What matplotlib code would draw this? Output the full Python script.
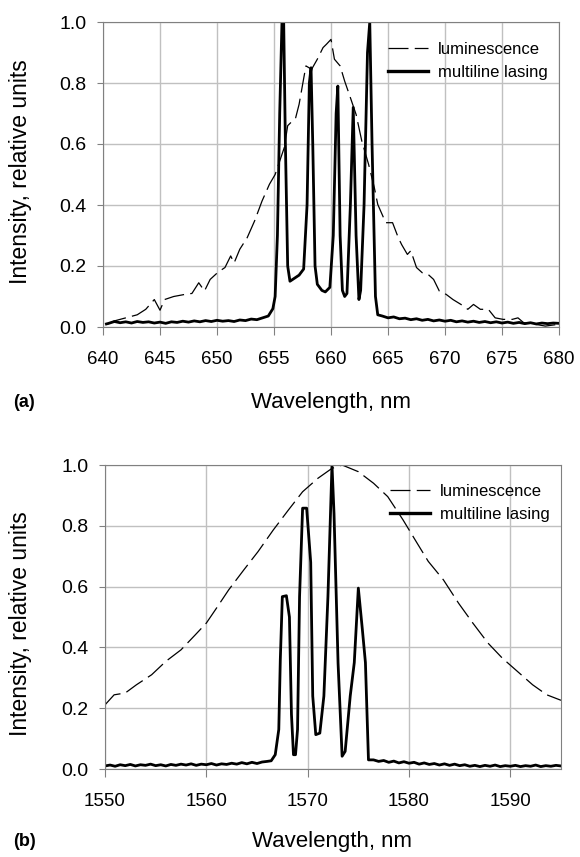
import matplotlib
matplotlib.use("Agg")
import matplotlib.pyplot as plt
import numpy as np

plt.rcParams['font.family'] = ['Liberation Sans', 'DejaVu Sans']

# (a) red band - luminescence (dashed)
wl_a_lum = [640.35, 641.0, 642.0, 643.0, 643.75, 644.5, 645.0, 645.4, 646.2, 647.2, 647.8,
            648.4, 648.9, 649.4, 650.1, 650.7, 651.2, 651.5, 652.0, 652.65, 653.3, 653.95,
            654.6, 655.1, 655.6, 655.9, 656.2, 656.9, 657.2, 657.8, 658.3, 658.8, 659.3,
            659.6, 660.0, 660.3, 660.8, 661.2, 661.7, 662.2, 662.7, 663.3, 663.8, 664.1,
            664.8, 665.4, 665.9, 666.2, 666.7, 667.0, 667.5, 668.0, 668.5, 669.0, 669.5,
            670.1, 670.7, 671.4, 672.0, 672.5, 673.1, 673.8, 674.4, 675.1, 675.9, 676.4,
            676.9, 677.9, 678.8, 680.0]
int_a_lum = [0.009, 0.02, 0.03, 0.04, 0.058, 0.09, 0.055, 0.09, 0.10, 0.107, 0.11,
             0.145, 0.118, 0.156, 0.18, 0.195, 0.233, 0.21, 0.255, 0.293, 0.348, 0.413,
             0.468, 0.50, 0.555, 0.588, 0.66, 0.686, 0.73, 0.856, 0.845, 0.878, 0.916,
             0.927, 0.943, 0.878, 0.856, 0.806, 0.752, 0.697, 0.61, 0.533, 0.457, 0.402,
             0.342, 0.342, 0.293, 0.27, 0.238, 0.25, 0.195, 0.178, 0.173, 0.156, 0.118,
             0.107, 0.09, 0.074, 0.058, 0.074, 0.058, 0.058, 0.03, 0.025, 0.025, 0.03,
             0.014, 0.009, 0.003, 0.009]

# (a) multiline lasing (solid)
wl_a_las = [640.3, 640.5, 641.0, 641.5, 642.0, 642.5, 643.0, 643.5, 644.0, 644.5, 645.0,
            645.5, 646.0, 646.5, 647.0, 647.5, 648.0, 648.5, 649.0, 649.5, 650.0, 650.5,
            651.0, 651.5, 652.0, 652.5, 653.0, 653.5, 654.0, 654.5, 654.9, 655.1, 655.3,
            655.5, 655.7, 655.85, 656.0, 656.2, 656.4, 656.8, 657.2, 657.6, 657.9, 658.1,
            658.25, 658.4, 658.6, 658.8, 659.2, 659.5, 659.9, 660.2, 660.45, 660.6, 660.8,
            661.0, 661.2, 661.4, 661.7, 661.95, 662.2, 662.45, 662.6, 662.9, 663.2, 663.4,
            663.6, 663.9, 664.1, 664.5, 665.0, 665.5, 666.0, 666.5, 667.0, 667.5, 668.0,
            668.5, 669.0, 669.5, 670.0, 670.5, 671.0, 671.5, 672.0, 672.5, 673.0, 673.5,
            674.0, 674.5, 675.0, 675.5, 676.0, 676.5, 677.0, 677.5, 678.0, 678.5, 679.0,
            679.5, 680.0]
int_a_las = [0.010, 0.012, 0.018, 0.014, 0.017, 0.013, 0.018, 0.015, 0.017, 0.013, 0.016,
             0.012, 0.017, 0.015, 0.019, 0.016, 0.020, 0.017, 0.021, 0.018, 0.022, 0.019,
             0.021, 0.018, 0.023, 0.021, 0.026, 0.024, 0.030, 0.036, 0.060, 0.10, 0.30,
             0.70, 1.0, 1.0, 0.60, 0.20, 0.15, 0.16, 0.17, 0.19, 0.40, 0.80,
             0.85, 0.60, 0.20, 0.14, 0.12, 0.115, 0.13, 0.30, 0.70, 0.79, 0.30,
             0.12, 0.10, 0.11, 0.40, 0.72, 0.30, 0.09, 0.12, 0.40, 0.90, 1.0,
             0.60, 0.10, 0.040, 0.036, 0.030, 0.033, 0.027, 0.029, 0.024, 0.027, 0.022,
             0.025, 0.020, 0.023, 0.019, 0.022, 0.017, 0.020, 0.016, 0.019, 0.015, 0.018,
             0.014, 0.017, 0.013, 0.016, 0.012, 0.015, 0.011, 0.014, 0.010, 0.013, 0.011,
             0.013, 0.012]

# (b) infrared band - luminescence (dashed)
wl_b_lum = [1550.0, 1550.9, 1552.0, 1553.1, 1554.6, 1556.0, 1557.5, 1558.9, 1560.0, 1561.1,
            1562.2, 1563.7, 1565.1, 1566.6, 1568.1, 1569.5, 1571.0, 1572.4, 1573.4, 1575.0,
            1576.5, 1577.9, 1579.4, 1580.8, 1581.9, 1583.4, 1584.9, 1586.3, 1587.8, 1589.2,
            1590.7, 1592.2, 1593.6, 1595.0]
int_b_lum = [0.211, 0.244, 0.25, 0.277, 0.31, 0.354, 0.392, 0.441, 0.48, 0.534,
             0.589, 0.655, 0.715, 0.786, 0.852, 0.912, 0.956, 0.989, 1.0, 0.978,
             0.94, 0.896, 0.82, 0.743, 0.683, 0.622, 0.545, 0.48, 0.414, 0.365,
             0.321, 0.277, 0.244, 0.226]

# (b) multiline lasing (solid)
wl_b_las = [1550.0, 1550.5, 1551.0, 1551.5, 1552.0, 1552.5, 1553.0, 1553.5, 1554.0, 1554.5,
            1555.0, 1555.5, 1556.0, 1556.5, 1557.0, 1557.5, 1558.0, 1558.5, 1559.0, 1559.5,
            1560.0, 1560.5, 1561.0, 1561.5, 1562.0, 1562.5, 1563.0, 1563.5, 1564.0, 1564.5,
            1565.0, 1565.5, 1566.0, 1566.4, 1566.8, 1567.15, 1567.3, 1567.5, 1567.9, 1568.2,
            1568.4, 1568.6, 1568.8, 1569.0, 1569.2, 1569.5, 1569.9, 1570.3, 1570.5, 1570.8,
            1571.2, 1571.6, 1572.0, 1572.4, 1572.6, 1573.0, 1573.4, 1573.7, 1574.2, 1574.6,
            1575.0, 1575.4, 1575.7, 1576.0, 1576.3, 1576.5, 1577.0, 1577.5, 1578.0, 1578.5,
            1579.0, 1579.5, 1580.0, 1580.5, 1581.0, 1581.5, 1582.0, 1582.5, 1583.0, 1583.5,
            1584.0, 1584.5, 1585.0, 1585.5, 1586.0, 1586.5, 1587.0, 1587.5, 1588.0, 1588.5,
            1589.0, 1589.5, 1590.0, 1590.5, 1591.0, 1591.5, 1592.0, 1592.5, 1593.0, 1593.5,
            1594.0, 1594.5, 1595.0]
int_b_las = [0.010, 0.013, 0.009, 0.014, 0.011, 0.015, 0.010, 0.014, 0.012, 0.016,
             0.011, 0.014, 0.010, 0.015, 0.012, 0.016, 0.013, 0.017, 0.012, 0.016,
             0.014, 0.018, 0.013, 0.017, 0.015, 0.019, 0.016, 0.021, 0.017, 0.022,
             0.018, 0.023, 0.025, 0.027, 0.047, 0.13, 0.36, 0.567, 0.57, 0.50,
             0.18, 0.047, 0.047, 0.13, 0.567, 0.858, 0.858, 0.68, 0.24, 0.113,
             0.118, 0.24, 0.567, 1.0, 0.84, 0.348, 0.042, 0.058, 0.24, 0.35,
             0.595, 0.458, 0.35, 0.03, 0.03, 0.030, 0.025, 0.028, 0.022, 0.026,
             0.020, 0.024, 0.019, 0.022, 0.016, 0.020, 0.015, 0.018, 0.013, 0.017,
             0.012, 0.016, 0.011, 0.014, 0.009, 0.012, 0.008, 0.012, 0.009, 0.013,
             0.008, 0.011, 0.009, 0.012, 0.008, 0.011, 0.009, 0.013, 0.008, 0.011,
             0.009, 0.012, 0.010]

fig = plt.figure(figsize=(5.8, 8.57), dpi=100)
ax1 = fig.add_axes([103 / 580, 1 - 327 / 857, 456 / 580, 305 / 857])
ax2 = fig.add_axes([105 / 580, 1 - 769 / 857, 456 / 580, 304 / 857])

def style(ax, xlim, xticks):
    ax.set_xlim(*xlim)
    ax.set_ylim(0, 1.0)
    ax.set_xticks(xticks)
    ax.set_yticks(np.arange(0, 1.01, 0.2))
    ax.set_yticklabels(["%.1f" % v for v in np.arange(0, 1.01, 0.2)])
    ax.grid(True, color="#c0c0c0", linewidth=1)
    ax.set_axisbelow(True)
    for s in ax.spines.values():
        s.set_color("#808080")
    ax.tick_params(axis="x", direction="out", length=6, color="#808080", labelsize=13.5, pad=11)
    ax.tick_params(axis="y", direction="out", length=4, color="#808080", labelsize=14, pad=8)

panels = [
    (ax1, wl_a_lum, int_a_lum, wl_a_las, int_a_las, (640, 680), range(640, 681, 5), 0.935),
    (ax2, wl_b_lum, int_b_lum, wl_b_las, int_b_las, (1550, 1595), range(1550, 1591, 10), 0.938),
]
for ax, wl, lum, wl2, las, xlim, xt, ytop in panels:
    ax.plot(wl, lum, color="black", linewidth=0.9, dashes=(16, 5), label="luminescence")
    ax.plot(wl2, las, color="black", linewidth=2.0, label="multiline lasing")
    style(ax, xlim, xt)
    leg = ax.legend(loc="upper left", bbox_to_anchor=(0.625, ytop), frameon=False, fontsize=12,
                    handlelength=2.4, handletextpad=0.6, labelspacing=0.5,
                    borderpad=0, borderaxespad=0)
    leg.get_lines()[1].set_linewidth(2.4)

fig.text(331 / 580, 1 - 403 / 857, "Wavelength, nm", ha="center", va="center", fontsize=16)
fig.text(332 / 580, 1 - 841 / 857, "Wavelength, nm", ha="center", va="center", fontsize=16)
fig.text(13 / 580, 1 - 403 / 857, "(a)", ha="left", va="center", fontsize=13, fontweight="bold")
fig.text(13 / 580, 1 - 841 / 857, "(b)", ha="left", va="center", fontsize=13, fontweight="bold")
fig.text(21 / 580, 1 - 172 / 857, "Intensity, relative units", rotation=90, ha="center", va="center", fontsize=16.5)
fig.text(21 / 580, 1 - 624 / 857, "Intensity, relative units", rotation=90, ha="center", va="center", fontsize=16.5)

fig.savefig("out.png", dpi=100)
